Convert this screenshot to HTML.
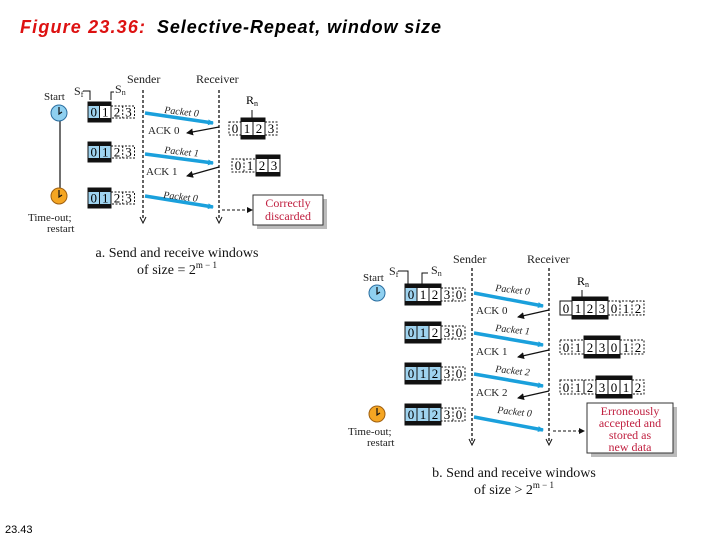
<!DOCTYPE html>
<html><head><meta charset="utf-8"><style>
body{margin:0;background:#fff;}
svg{display:block;}
.s{font-family:"Liberation Serif",serif;fill:#222;}
.c{font-family:"Liberation Serif",serif;font-size:12px;fill:#111;text-anchor:middle;}
</style></head><body>
<svg width="720" height="540" viewBox="0 0 720 540" xmlns="http://www.w3.org/2000/svg">
<defs>
<marker id="ab" markerWidth="6" markerHeight="6" refX="5" refY="3" orient="auto" markerUnits="userSpaceOnUse"><path d="M0,0 L6,3 L0,6z" fill="#1aa0dc"/></marker>
<marker id="ak" markerWidth="7" markerHeight="7" refX="6" refY="3.5" orient="auto" markerUnits="userSpaceOnUse"><path d="M0,0 L7,3.5 L0,7z" fill="#111"/></marker>
</defs>
<text x="20" y="33" font-family="Liberation Sans,sans-serif" font-style="italic" font-weight="bold" font-size="18" fill="#d11" textLength="125">Figure 23.36:</text>
<text x="157" y="33" font-family="Liberation Sans,sans-serif" font-style="italic" font-weight="bold" font-size="18" fill="#000" textLength="284">Selective-Repeat, window size</text>
<text x="5" y="533" font-family="Liberation Sans,sans-serif" font-size="11" fill="#000">23.43</text>

<!-- ===== Part a ===== -->
<text x="127" y="83" class="s" font-size="12">Sender</text>
<text x="196" y="83" class="s" font-size="12">Receiver</text>
<line x1="143" y1="90" x2="143" y2="220" stroke="#111" stroke-dasharray="3,2" stroke-width="1.3"/>
<line x1="219" y1="90" x2="219" y2="220" stroke="#111" stroke-dasharray="3,2" stroke-width="1.3"/>
<path d="M140,217 L143,223 L146,217" fill="none" stroke="#111"/>
<path d="M216,217 L219,223 L222,217" fill="none" stroke="#111"/>
<text x="44" y="100" class="s" font-size="11">Start</text>
<line x1="60" y1="121" x2="60" y2="188" stroke="#111" stroke-width="1.2"/>
<circle cx="59" cy="113" r="8" fill="#8fd0f0" stroke="#2a6ea0"/><path d="M59,107 V114 L62,112" stroke="#111" fill="none" stroke-width="1.2"/>
<circle cx="59" cy="196" r="8" fill="#f5a623" stroke="#a06010"/><path d="M59,190 V197 L62,195" stroke="#111" fill="none" stroke-width="1.2"/>
<text x="28" y="221" class="s" font-size="11">Time-out;</text>
<text x="47" y="232" class="s" font-size="11">restart</text>
<text x="74" y="95" class="s" font-size="12">S<tspan font-size="8" dy="2">f</tspan></text>
<path d="M83,91 H90 V100" fill="none" stroke="#111"/>
<path d="M111,100 V92 H114" fill="none" stroke="#111"/>
<text x="115" y="93" class="s" font-size="12">S<tspan font-size="8" dy="2">n</tspan></text>

<g font-family="Liberation Serif,serif" font-size="13" text-anchor="middle">
<g transform="translate(88,102)">
<rect x="0" y="0" width="11.5" height="20" fill="#9fd3ef"/><rect x="11.5" y="0" width="11.5" height="20" fill="#fff"/>
<rect x="0" y="0" width="23" height="20" fill="none" stroke="#111"/><line x1="11.5" y1="0" x2="11.5" y2="20" stroke="#111"/>
<rect x="0" y="0" width="23" height="4" fill="#111"/><rect x="0" y="16" width="23" height="4" fill="#111"/>
<rect x="23" y="4" width="23.5" height="12" fill="none" stroke="#111" stroke-dasharray="2,1.5"/><line x1="34.7" y1="4" x2="34.7" y2="16" stroke="#111" stroke-dasharray="2,1.5"/>
<text x="5.7" y="14.5">0</text><text x="17.2" y="14.5">1</text><text x="29" y="14.5">2</text><text x="40.5" y="14.5">3</text>
</g>
<g transform="translate(88,142)">
<rect x="0" y="0" width="23" height="20" fill="#9fd3ef" stroke="#111"/><line x1="11.5" y1="0" x2="11.5" y2="20" stroke="#111"/>
<rect x="0" y="0" width="23" height="4" fill="#111"/><rect x="0" y="16" width="23" height="4" fill="#111"/>
<rect x="23" y="4" width="23.5" height="12" fill="none" stroke="#111" stroke-dasharray="2,1.5"/><line x1="34.7" y1="4" x2="34.7" y2="16" stroke="#111" stroke-dasharray="2,1.5"/>
<text x="5.7" y="14.5">0</text><text x="17.2" y="14.5">1</text><text x="29" y="14.5">2</text><text x="40.5" y="14.5">3</text>
</g>
<g transform="translate(88,188)">
<rect x="0" y="0" width="23" height="20" fill="#9fd3ef" stroke="#111"/><line x1="11.5" y1="0" x2="11.5" y2="20" stroke="#111"/>
<rect x="0" y="0" width="23" height="4" fill="#111"/><rect x="0" y="16" width="23" height="4" fill="#111"/>
<rect x="23" y="4" width="23.5" height="12" fill="none" stroke="#111" stroke-dasharray="2,1.5"/><line x1="34.7" y1="4" x2="34.7" y2="16" stroke="#111" stroke-dasharray="2,1.5"/>
<text x="5.7" y="14.5">0</text><text x="17.2" y="14.5">1</text><text x="29" y="14.5">2</text><text x="40.5" y="14.5">3</text>
</g>
<text x="252" y="104" font-size="12">R<tspan font-size="8" dy="2">n</tspan></text>
<line x1="252" y1="110" x2="252" y2="118" stroke="#111"/>
<g transform="translate(229,118)">
<rect x="0" y="4" width="12" height="13" fill="none" stroke="#111" stroke-dasharray="2,1.5"/>
<rect x="12" y="0" width="24" height="21" fill="#fff" stroke="#111"/><line x1="24" y1="0" x2="24" y2="21" stroke="#111"/>
<rect x="12" y="0" width="24" height="4" fill="#111"/><rect x="12" y="17" width="24" height="4" fill="#111"/>
<rect x="36" y="4" width="12" height="13" fill="none" stroke="#111" stroke-dasharray="2,1.5"/>
<text x="6" y="15">0</text><text x="18" y="15">1</text><text x="30" y="15">2</text><text x="42" y="15">3</text>
</g>
<g transform="translate(232,155)">
<rect x="0" y="4" width="24" height="13" fill="none" stroke="#111" stroke-dasharray="2,1.5"/><line x1="12" y1="4" x2="12" y2="17" stroke="#111" stroke-dasharray="2,1.5"/>
<rect x="24" y="0" width="24" height="21" fill="#fff" stroke="#111"/><line x1="36" y1="0" x2="36" y2="21" stroke="#111"/>
<rect x="24" y="0" width="24" height="4" fill="#111"/><rect x="24" y="17" width="24" height="4" fill="#111"/>
<text x="6" y="15">0</text><text x="18" y="15">1</text><text x="30" y="15">2</text><text x="42" y="15">3</text>
</g>
</g>
<g stroke="#1aa0dc" stroke-width="3.5" fill="none">
<line x1="145" y1="113" x2="213" y2="123" marker-end="url(#ab)"/>
<line x1="145" y1="154" x2="213" y2="163" marker-end="url(#ab)"/>
<line x1="145" y1="196" x2="213" y2="207" marker-end="url(#ab)"/>
</g>
<g stroke="#111" stroke-width="1.2" fill="none">
<line x1="219" y1="127" x2="187" y2="133" marker-end="url(#ak)"/>
<line x1="219" y1="167" x2="187" y2="176" marker-end="url(#ak)"/>
</g>
<g class="s" font-size="10" font-style="italic">
<text x="164" y="113" transform="rotate(6 164 113)">Packet 0</text>
<text x="164" y="153" transform="rotate(6 164 153)">Packet 1</text>
<text x="163" y="198" transform="rotate(6 163 198)">Packet 0</text>
</g>
<text x="148" y="134" class="s" font-size="11">ACK 0</text>
<text x="146" y="175" class="s" font-size="11">ACK 1</text>
<line x1="222" y1="210" x2="248" y2="210" stroke="#111" stroke-dasharray="3,2"/>
<path d="M247,207 L253,210 L247,213z" fill="#111"/>
<rect x="257" y="199" width="70" height="30" fill="#bbb"/>
<rect x="253" y="195" width="70" height="30" fill="#fff" stroke="#333"/>
<text x="288" y="207" class="c" style="fill:#c02040">Correctly</text>
<text x="288" y="220" class="c" style="fill:#c02040">discarded</text>
<text x="177" y="257" class="c" style="font-size:14px">a. Send and receive windows</text>
<text x="177" y="274" class="c" style="font-size:14px">of size = 2<tspan font-size="9" dy="-6">m − 1</tspan></text>

<!-- ===== Part b ===== -->
<text x="453" y="263" class="s" font-size="12">Sender</text>
<text x="527" y="263" class="s" font-size="12">Receiver</text>
<line x1="472" y1="268" x2="472" y2="442" stroke="#111" stroke-dasharray="3,2" stroke-width="1.3"/>
<line x1="549" y1="268" x2="549" y2="442" stroke="#111" stroke-dasharray="3,2" stroke-width="1.3"/>
<path d="M469,439 L472,445 L475,439" fill="none" stroke="#111"/>
<path d="M546,439 L549,445 L552,439" fill="none" stroke="#111"/>
<text x="363" y="281" class="s" font-size="11">Start</text>
<circle cx="377" cy="293" r="8" fill="#8fd0f0" stroke="#2a6ea0"/><path d="M377,287 V294 L380,292" stroke="#111" fill="none" stroke-width="1.2"/>
<circle cx="377" cy="414" r="8" fill="#f5a623" stroke="#a06010"/><path d="M377,408 V415 L380,413" stroke="#111" fill="none" stroke-width="1.2"/>
<text x="348" y="435" class="s" font-size="11">Time-out;</text>
<text x="367" y="446" class="s" font-size="11">restart</text>
<text x="389" y="275" class="s" font-size="12">S<tspan font-size="8" dy="2">f</tspan></text>
<path d="M398,271 H408 V284" fill="none" stroke="#111"/>
<path d="M422,284 V273 H428" fill="none" stroke="#111"/>
<text x="431" y="274" class="s" font-size="12">S<tspan font-size="8" dy="2">n</tspan></text>

<g font-family="Liberation Serif,serif" font-size="13" text-anchor="middle">
<g transform="translate(405,284)">
<rect x="0" y="0" width="12" height="21" fill="#9fd3ef"/><rect x="12" y="0" width="24" height="21" fill="#fff"/>
<rect x="0" y="0" width="36" height="21" fill="none" stroke="#111"/><line x1="12" y1="0" x2="12" y2="21" stroke="#111"/><line x1="24" y1="0" x2="24" y2="21" stroke="#111"/>
<rect x="0" y="0" width="36" height="4" fill="#111"/><rect x="0" y="17" width="36" height="4" fill="#111"/>
<rect x="36" y="4" width="24" height="13" fill="none" stroke="#111" stroke-dasharray="2,1.5"/><line x1="48" y1="4" x2="48" y2="17" stroke="#111" stroke-dasharray="2,1.5"/>
<text x="6" y="15">0</text><text x="18" y="15">1</text><text x="30" y="15">2</text><text x="42" y="15">3</text><text x="54" y="15">0</text>
</g>
<g transform="translate(405,322)">
<rect x="0" y="0" width="24" height="21" fill="#9fd3ef"/><rect x="24" y="0" width="12" height="21" fill="#fff"/>
<rect x="0" y="0" width="36" height="21" fill="none" stroke="#111"/><line x1="12" y1="0" x2="12" y2="21" stroke="#111"/><line x1="24" y1="0" x2="24" y2="21" stroke="#111"/>
<rect x="0" y="0" width="36" height="4" fill="#111"/><rect x="0" y="17" width="36" height="4" fill="#111"/>
<rect x="36" y="4" width="24" height="13" fill="none" stroke="#111" stroke-dasharray="2,1.5"/><line x1="48" y1="4" x2="48" y2="17" stroke="#111" stroke-dasharray="2,1.5"/>
<text x="6" y="15">0</text><text x="18" y="15">1</text><text x="30" y="15">2</text><text x="42" y="15">3</text><text x="54" y="15">0</text>
</g>
<g transform="translate(405,363)">
<rect x="0" y="0" width="36" height="21" fill="#9fd3ef" stroke="#111"/><line x1="12" y1="0" x2="12" y2="21" stroke="#111"/><line x1="24" y1="0" x2="24" y2="21" stroke="#111"/>
<rect x="0" y="0" width="36" height="4" fill="#111"/><rect x="0" y="17" width="36" height="4" fill="#111"/>
<rect x="36" y="4" width="24" height="13" fill="none" stroke="#111" stroke-dasharray="2,1.5"/><line x1="48" y1="4" x2="48" y2="17" stroke="#111" stroke-dasharray="2,1.5"/>
<text x="6" y="15">0</text><text x="18" y="15">1</text><text x="30" y="15">2</text><text x="42" y="15">3</text><text x="54" y="15">0</text>
</g>
<g transform="translate(405,404)">
<rect x="0" y="0" width="36" height="21" fill="#9fd3ef" stroke="#111"/><line x1="12" y1="0" x2="12" y2="21" stroke="#111"/><line x1="24" y1="0" x2="24" y2="21" stroke="#111"/>
<rect x="0" y="0" width="36" height="4" fill="#111"/><rect x="0" y="17" width="36" height="4" fill="#111"/>
<rect x="36" y="4" width="24" height="13" fill="none" stroke="#111" stroke-dasharray="2,1.5"/><line x1="48" y1="4" x2="48" y2="17" stroke="#111" stroke-dasharray="2,1.5"/>
<text x="6" y="15">0</text><text x="18" y="15">1</text><text x="30" y="15">2</text><text x="42" y="15">3</text><text x="54" y="15">0</text>
</g>
<text x="583" y="285" font-size="12">R<tspan font-size="8" dy="2">n</tspan></text>
<line x1="582" y1="290" x2="582" y2="297" stroke="#111"/>
<g transform="translate(560,297)">
<rect x="0" y="4" width="12" height="14" fill="none" stroke="#111"/>
<rect x="12" y="0" width="36" height="22" fill="#fff" stroke="#111"/><line x1="24" y1="0" x2="24" y2="22" stroke="#111"/><line x1="36" y1="0" x2="36" y2="22" stroke="#111"/>
<rect x="12" y="0" width="36" height="4" fill="#111"/><rect x="12" y="18" width="36" height="4" fill="#111"/>
<rect x="48" y="4" width="36" height="14" fill="none" stroke="#111" stroke-dasharray="2,1.5"/><line x1="60" y1="4" x2="60" y2="18" stroke="#111" stroke-dasharray="2,1.5"/><line x1="72" y1="4" x2="72" y2="18" stroke="#111" stroke-dasharray="2,1.5"/>
<text x="6" y="16">0</text><text x="18" y="16">1</text><text x="30" y="16">2</text><text x="42" y="16">3</text><text x="54" y="16">0</text><text x="66" y="16">1</text><text x="78" y="16">2</text>
</g>
<g transform="translate(560,336)">
<rect x="0" y="4" width="24" height="14" fill="none" stroke="#111" stroke-dasharray="2,1.5"/><line x1="12" y1="4" x2="12" y2="18" stroke="#111" stroke-dasharray="2,1.5"/>
<rect x="24" y="0" width="36" height="22" fill="#fff" stroke="#111"/><line x1="36" y1="0" x2="36" y2="22" stroke="#111"/><line x1="48" y1="0" x2="48" y2="22" stroke="#111"/>
<rect x="24" y="0" width="36" height="4" fill="#111"/><rect x="24" y="18" width="36" height="4" fill="#111"/>
<rect x="60" y="4" width="24" height="14" fill="none" stroke="#111" stroke-dasharray="2,1.5"/><line x1="72" y1="4" x2="72" y2="18" stroke="#111" stroke-dasharray="2,1.5"/>
<text x="6" y="16">0</text><text x="18" y="16">1</text><text x="30" y="16">2</text><text x="42" y="16">3</text><text x="54" y="16">0</text><text x="66" y="16">1</text><text x="78" y="16">2</text>
</g>
<g transform="translate(560,376)">
<rect x="0" y="4" width="36" height="14" fill="none" stroke="#111" stroke-dasharray="2,1.5"/><line x1="12" y1="4" x2="12" y2="18" stroke="#111" stroke-dasharray="2,1.5"/><line x1="24" y1="4" x2="24" y2="18" stroke="#111"/>
<rect x="36" y="0" width="36" height="22" fill="#fff" stroke="#111"/><line x1="48" y1="0" x2="48" y2="22" stroke="#111"/><line x1="60" y1="0" x2="60" y2="22" stroke="#111"/>
<rect x="36" y="0" width="36" height="4" fill="#111"/><rect x="36" y="18" width="36" height="4" fill="#111"/>
<rect x="72" y="4" width="12" height="14" fill="none" stroke="#111" stroke-dasharray="2,1.5"/>
<text x="6" y="16">0</text><text x="18" y="16">1</text><text x="30" y="16">2</text><text x="42" y="16">3</text><text x="54" y="16">0</text><text x="66" y="16">1</text><text x="78" y="16">2</text>
</g>
</g>
<g stroke="#1aa0dc" stroke-width="3.5" fill="none">
<line x1="474" y1="293" x2="543" y2="306" marker-end="url(#ab)"/>
<line x1="474" y1="333" x2="543" y2="345" marker-end="url(#ab)"/>
<line x1="474" y1="374" x2="543" y2="386" marker-end="url(#ab)"/>
<line x1="474" y1="417" x2="543" y2="430" marker-end="url(#ab)"/>
</g>
<g stroke="#111" stroke-width="1.2" fill="none">
<line x1="549" y1="310" x2="518" y2="317" marker-end="url(#ak)"/>
<line x1="549" y1="350" x2="518" y2="357" marker-end="url(#ak)"/>
<line x1="549" y1="391" x2="518" y2="398" marker-end="url(#ak)"/>
</g>
<g class="s" font-size="10" font-style="italic">
<text x="495" y="291" transform="rotate(6 495 291)">Packet 0</text>
<text x="495" y="331" transform="rotate(6 495 331)">Packet 1</text>
<text x="495" y="372" transform="rotate(6 495 372)">Packet 2</text>
<text x="497" y="413" transform="rotate(6 497 413)">Packet 0</text>
</g>
<text x="476" y="314" class="s" font-size="11">ACK 0</text>
<text x="476" y="355" class="s" font-size="11">ACK 1</text>
<text x="476" y="396" class="s" font-size="11">ACK 2</text>
<line x1="553" y1="431" x2="580" y2="431" stroke="#111" stroke-dasharray="3,2"/>
<path d="M579,428 L585,431 L579,434z" fill="#111"/>
<rect x="591" y="407" width="86" height="50" fill="#bbb"/>
<rect x="587" y="403" width="86" height="50" fill="#fff" stroke="#333"/>
<text x="630" y="415" class="c" style="fill:#c02040">Erroneously</text>
<text x="630" y="427" class="c" style="fill:#c02040">accepted and</text>
<text x="630" y="439" class="c" style="fill:#c02040">stored as</text>
<text x="630" y="451" class="c" style="fill:#c02040">new data</text>
<text x="514" y="477" class="c" style="font-size:14px">b. Send and receive windows</text>
<text x="514" y="494" class="c" style="font-size:14px">of size &gt; 2<tspan font-size="9" dy="-6">m − 1</tspan></text>
</svg>
</body></html>
